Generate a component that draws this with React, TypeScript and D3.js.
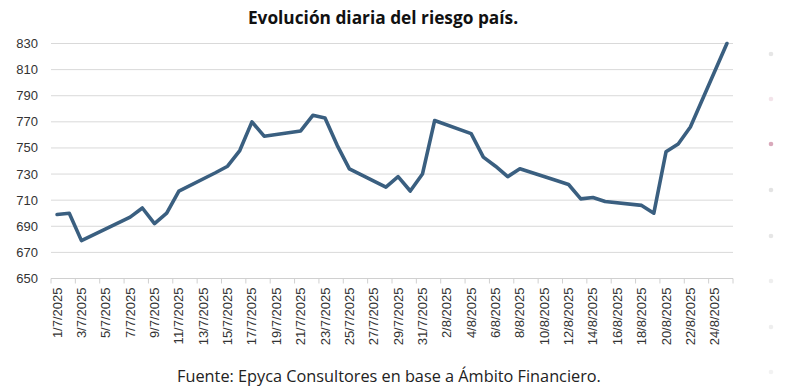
import React from 'react';
import * as d3 from 'd3';

// days on the axis: 1/7/2025 .. 25/8/2025
const days: string[] = [
  ...d3.range(1, 32).map((d) => `${d}/7/2025`),
  ...d3.range(1, 26).map((d) => `${d}/8/2025`),
];

// trading days and their values
const obsDates = [
  '1/7/2025', '2/7/2025', '3/7/2025', '7/7/2025', '8/7/2025', '9/7/2025', '10/7/2025', '11/7/2025',
  '14/7/2025', '15/7/2025', '16/7/2025', '17/7/2025', '18/7/2025', '21/7/2025', '22/7/2025', '23/7/2025',
  '24/7/2025', '25/7/2025', '28/7/2025', '29/7/2025', '30/7/2025', '31/7/2025', '1/8/2025', '4/8/2025',
  '5/8/2025', '6/8/2025', '7/8/2025', '8/8/2025', '11/8/2025', '12/8/2025', '13/8/2025', '14/8/2025',
  '15/8/2025', '18/8/2025', '19/8/2025', '20/8/2025', '21/8/2025', '22/8/2025', '25/8/2025',
];
const obsValues = [
  699, 700, 679, 697, 704, 692, 700, 717,
  731, 736, 748, 770, 759, 763, 775, 773,
  752, 734, 720, 728, 717, 730, 771, 761,
  743, 736, 728, 734, 725, 722, 711, 712,
  709, 706, 700, 747, 753, 766, 830,
];

const yTicks = d3.range(650, 831, 20);
const title = 'Evolución diaria del riesgo país.';
const source = 'Fuente: Epyca Consultores en base a Ámbito Financiero.';

// faint page-indicator dots on the right edge
const sideDots = [
  { y: 54, c: '#e6e6e6' }, { y: 99, c: '#f3e4ea' }, { y: 144, c: '#d9a9bb' }, { y: 190, c: '#e3e3e3' },
  { y: 236, c: '#e6e6e6' }, { y: 281, c: '#eeeeee' }, { y: 327, c: '#eeeeee' }, { y: 372, c: '#f2f2f2' },
];

export default function App() {
  const W = 790, H = 392;
  const left = 51, right = 733, top = 43.5, bottom = 278.5;

  const x = d3.scaleBand<string>().domain(days).range([left, right]);
  const y = d3.scaleLinear().domain([650, 830]).range([bottom, top]);

  const pts = obsDates.map((d, i) => [x(d)! + x.bandwidth() / 2, y(obsValues[i])] as [number, number]);
  const path = d3.line()(pts) || '';

  const tickDays = days.filter((_, i) => i % 2 === 0);

  return (
    <svg width={W} height={H} style={{ position: 'absolute', left: 0, top: 0, background: '#fff' }}>
      <text x={383} y={24} textAnchor="middle" fontFamily="'Open Sans', sans-serif" fontWeight={700} fontSize={17.3} fill="#111">
        {title}
      </text>

      {yTicks.map((t) => (
        <g key={t}>
          {t > 650 && <line x1={left} x2={right} y1={y(t)} y2={y(t)} stroke="#d9d9d9" strokeWidth={1} />}
          <text x={38} y={y(t) + 4.5} textAnchor="end" fontFamily="'Liberation Sans', Arial, sans-serif" fontSize={13} fill="#333">
            {t}
          </text>
        </g>
      ))}

      <line x1={left} x2={right} y1={bottom} y2={bottom} stroke="#d0d0d0" strokeWidth={1} />
      {d3.range(0, days.length + 1, 2).map((i) => {
        const xx = left + i * x.step();
        return <line key={i} x1={xx} x2={xx} y1={bottom} y2={bottom + 5} stroke="#d0d0d0" strokeWidth={1} />;
      })}
      {tickDays.map((d) => {
        const cx = x(d)! + x.bandwidth() / 2;
        return (
          <text
            key={d}
            transform={`translate(${cx + 4.5},${bottom + 9}) rotate(-90)`}
            textAnchor="end"
            fontFamily="'Liberation Sans', Arial, sans-serif"
            fontSize={13}
            fill="#333"
          >
            {d}
          </text>
        );
      })}

      <path d={path} fill="none" stroke="#3a5f80" strokeWidth={3.6} strokeLinejoin="round" strokeLinecap="round" />

      <text x={389} y={382} textAnchor="middle" fontFamily="'Open Sans', sans-serif" fontSize={16.3} fill="#222">
        {source}
      </text>

      {sideDots.map((d, i) => (
        <circle key={i} cx={771} cy={d.y} r={2.3} fill={d.c} />
      ))}
    </svg>
  );
}
